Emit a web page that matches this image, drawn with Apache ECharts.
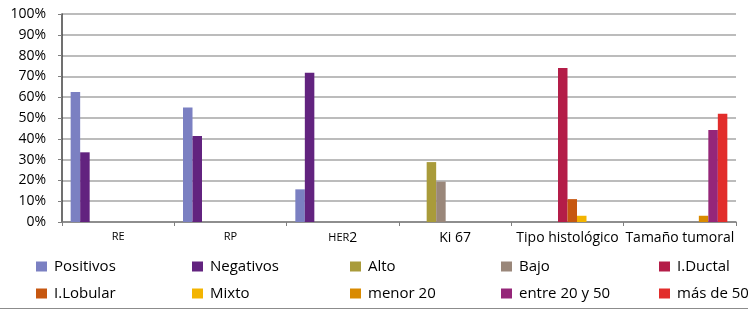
<!DOCTYPE html>
<html>
<head>
<meta charset="utf-8">
<script src="https://cdn.jsdelivr.net/npm/echarts@6/dist/echarts.min.js"></script>
<style>
  html, body { margin: 0; padding: 0; background: #fff; }
  #chart { width: 748px; height: 310px; }
</style>
</head>
<body>
<div id="chart"></div>
<script>
// categorias del eje x
var categorias = ['RE', 'RP', 'HER2', 'Ki 67', 'Tipo histológico', 'Tamaño tumoral'];
var yTicks = [0, 10, 20, 30, 40, 50, 60, 70, 80, 90, 100];

// valores (%) por serie
var positivos   = [62.5, 55, 15.7, 0, 0, 0];
var negativos   = [33.5, 41.3, 71.8, 0, 0, 0];
var alto        = [0, 0, 0, 28.8, 0, 0];
var bajo        = [0, 0, 0, 19.4, 0, 0];
var iDuctal     = [0, 0, 0, 0, 74, 0];
var iLobular    = [0, 0, 0, 0, 11, 0];
var mixto       = [0, 0, 0, 0, 3, 0];
var menor20     = [0, 0, 0, 0, 0, 3];
var entre20y50  = [0, 0, 0, 0, 0, 44.2];
var masDe50     = [0, 0, 0, 0, 0, 52];

var nombres = ['Positivos', 'Negativos', 'Alto', 'Bajo', 'I.Ductal',
               'I.Lobular', 'Mixto', 'menor 20', 'entre 20 y 50', 'más de 50'];
var valores = [positivos, negativos, alto, bajo, iDuctal,
               iLobular, mixto, menor20, entre20y50, masDe50];
var colores = ['#7b80c2', '#62237f', '#a99b3a', '#9a877a', '#b41d48',
               '#c65710', '#f3b400', '#d98a00', '#952679', '#e22d2b'];

var fuente = '"Open Sans", "Noto Sans", sans-serif';

var series = [];
for (var i = 0; i < nombres.length; i++) {
    series.push({
        name: nombres[i],
        type: 'bar',
        data: valores[i],
        barWidth: 9.5,
        barGap: '0%',
        itemStyle: { color: colores[i] },
        silent: true
    });
}

// leyenda en dos filas de cinco columnas
var colX = [36, 192, 350, 501, 659];
var filaY = [259, 286];
var leyendas = [];
for (var j = 0; j < nombres.length; j++) {
    leyendas.push({
        data: [nombres[j]],
        left: colX[j % 5],
        top: filaY[Math.floor(j / 5)],
        itemWidth: 11,
        itemHeight: 10,
        itemGap: 0,
        padding: 0,
        icon: 'rect',
        selectedMode: false,
        textStyle: { fontFamily: fuente, fontSize: 15, color: '#000', padding: [0, 0, 0, 2] }
    });
}

var myChart = echarts.init(document.getElementById('chart'));
var option = {
    animation: false,
    backgroundColor: '#fff',
    textStyle: { fontFamily: fuente },
    grid: { left: 62, right: 12, top: 14, bottom: 88 },
    legend: leyendas,
    xAxis: {
        type: 'category',
        data: categorias,
        axisLine: { lineStyle: { color: '#7f7f7f', width: 1.5 } },
        axisTick: { show: true, length: 4, lineStyle: { color: '#7f7f7f' } },
        axisLabel: {
            interval: 0,
            margin: 9,
            color: '#000',
            fontSize: 14,
            fontFamily: fuente,
            formatter: function (v) {
                if (v === 'RE' || v === 'RP') return '{s|' + v + '}';
                if (v === 'HER2') return '{s|HER}2';
                return v;
            },
            rich: { s: { fontSize: 11, fontFamily: fuente, color: '#000' } }
        }
    },
    yAxis: {
        type: 'value',
        min: yTicks[0],
        max: yTicks[yTicks.length - 1],
        interval: 10,
        axisLine: { show: true, lineStyle: { color: '#404040', width: 1.5 } },
        axisTick: { show: true, length: 4, lineStyle: { color: '#7f7f7f' } },
        axisLabel: {
            margin: 16,
            color: '#000',
            fontSize: 14,
            fontFamily: fuente,
            formatter: '{value}%'
        },
        splitLine: { lineStyle: { color: '#a6a6a6', width: 1.5 } }
    },
    graphic: [{
        type: 'line',
        shape: { x1: 0, y1: 308.5, x2: 748, y2: 308.5 },
        style: { stroke: '#8c8c8c', lineWidth: 1 },
        silent: true
    }],
    series: series
};
myChart.setOption(option);
</script>
</body>
</html>
